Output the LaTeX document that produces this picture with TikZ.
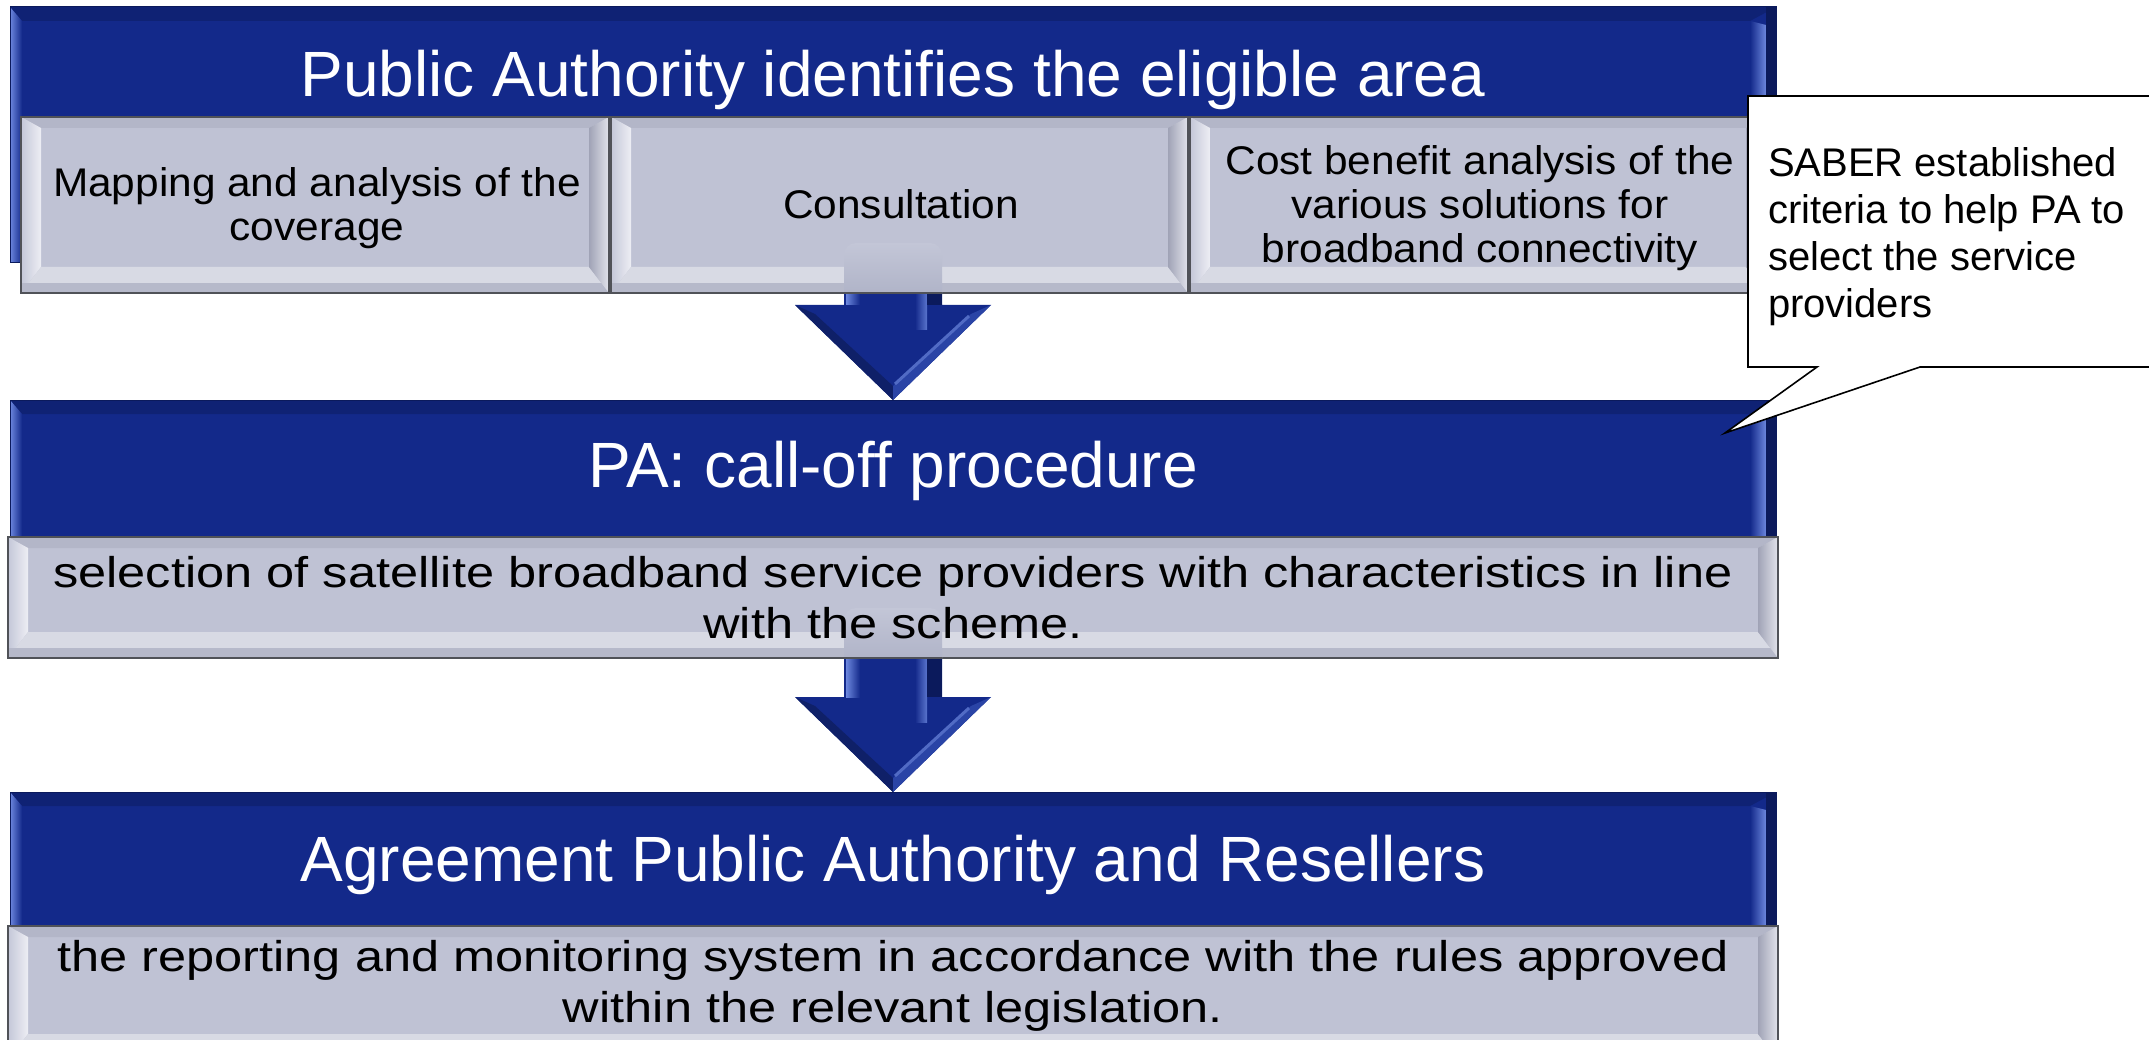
\documentclass[tikz,border=0pt]{standalone}
\usepackage{fontspec}
\setmainfont{Liberation Sans}
\newfontfamily\fontA[FakeStretch=1.06]{Liberation Sans}
\newfontfamily\fontB[FakeStretch=1.175]{Liberation Sans}
\usetikzlibrary{calc}
\definecolor{navy}{HTML}{13298A}
\definecolor{navytop}{HTML}{0F2274}
\definecolor{navyhi}{HTML}{6C87DE}
\definecolor{navyedge}{HTML}{0B1A5C}
\definecolor{navydeep}{HTML}{0F2068}
\definecolor{navyright}{HTML}{2A44A6}
\definecolor{grayfill}{HTML}{BFC2D4}
\definecolor{graytop}{HTML}{B3B6C8}
\definecolor{grayleftA}{HTML}{C4C7D8}
\definecolor{grayleftB}{HTML}{EDEEF4}
\definecolor{graybotA}{HTML}{D8DAE4}
\definecolor{graybotB}{HTML}{B6B9CA}
\definecolor{grayrightA}{HTML}{A0A3B6}
\definecolor{grayrightB}{HTML}{E2E3EB}
\definecolor{grayline}{HTML}{505258}
\definecolor{ovtop}{HTML}{C3C6D7}
\definecolor{ovbot}{HTML}{ABAFC4}

\tikzset{
  bluebox/.style={fill=navy, draw=navyedge, line width=1pt, inner sep=0pt, outer sep=0pt,
    path picture={
      \fill[navytop] let \p1=(path picture bounding box.north west), \p2=(path picture bounding box.south east) in
        (\x1,\y1) -- (\x2,\y1) -- (\x2-26pt,\y1-14pt) -- (\x1+12pt,\y1-14pt) -- cycle;
      \shade[left color=navyhi, right color=navy] let \p1=(path picture bounding box.north west), \p2=(path picture bounding box.south east) in
        (\x1,\y1) -- (\x1+12pt,\y1-14pt) -- (\x1+12pt,\y2) -- (\x1,\y2) -- cycle;
      \shade[left color=navy, right color=navyhi] let \p1=(path picture bounding box.north west), \p2=(path picture bounding box.south east) in
        (\x2-26pt,\y1-14pt) -- (\x2-10pt,\y1-18pt) -- (\x2-10pt,\y2) -- (\x2-26pt,\y2) -- cycle;
      \fill[navyedge] let \p1=(path picture bounding box.north west), \p2=(path picture bounding box.south east) in
        (\x2-10pt,\y1) rectangle (\x2,\y2);
    }},
  graybox/.style={fill=grayfill, draw=grayline, line width=1.2pt, inner sep=0pt, outer sep=0pt,
    path picture={
      \fill[graytop] let \p1=(path picture bounding box.north west), \p2=(path picture bounding box.south east) in
        (\x1,\y1) -- (\x2,\y1) -- (\x2-20pt,\y1-11pt) -- (\x1+20pt,\y1-11pt) -- cycle;
      \shade[left color=grayleftA, right color=grayleftB] let \p1=(path picture bounding box.north west), \p2=(path picture bounding box.south east) in
        (\x1,\y1) -- (\x1+20pt,\y1-11pt) -- (\x1+20pt,\y2+26pt) -- (\x1,\y2) -- cycle;
      \fill[graybotA] let \p1=(path picture bounding box.north west), \p2=(path picture bounding box.south east) in
        (\x1,\y2) -- (\x1+20pt,\y2+26pt) -- (\x2-20pt,\y2+26pt) -- (\x2,\y2) -- cycle;
      \fill[graybotB] let \p1=(path picture bounding box.north west), \p2=(path picture bounding box.south east) in
        (\x1,\y2) rectangle (\x2,\y2+10pt);
      \shade[left color=grayrightA, right color=grayrightB] let \p1=(path picture bounding box.north west), \p2=(path picture bounding box.south east) in
        (\x2,\y1) -- (\x2-20pt,\y1-11pt) -- (\x2-20pt,\y2+26pt) -- (\x2,\y2) -- cycle;
    }},
  titletxt/.style={text=white, font=\fontsize{64pt}{70pt}\selectfont, inner sep=0pt, outer sep=0pt, anchor=base},
  smalltxt/.style={text=black, font=\fontA\fontsize{40pt}{44pt}\selectfont, align=center, inner sep=0pt, outer sep=0pt, anchor=base},
  widetxt/.style={text=black, font=\fontB\fontsize{43pt}{51pt}\selectfont, align=center, inner sep=0pt, outer sep=0pt, anchor=base},
  notetxt/.style={text=black, font=\fontsize{40pt}{47.3pt}\selectfont, align=left, inner sep=0pt, outer sep=0pt, anchor=base west},
  callout/.style={draw=black, line width=1.6pt, fill=white, line join=miter},
}

% #1 tip coordinate, #2 distance from tip up to the lower edge of the grey box above
\newcommand\blockarrow[2]{%
  \shade[top color=ovtop, bottom color=ovbot, rounded corners=12pt]
    ($(#1)+(-49,-#2-50)$) rectangle ($(#1)+(49,-#2+14)$);
  \fill[navy] (#1) -- ($(#1)+(-98,-95)$) -- ($(#1)+(-49,-95)$) -- ($(#1)+(-49,-#2)$)
    -- ($(#1)+(49,-#2)$) -- ($(#1)+(49,-95)$) -- ($(#1)+(98,-95)$) -- cycle;
  \fill[navydeep] (#1) -- ($(#1)+(-98,-95)$) -- ($(#1)+(-78,-86)$) -- ($(#1)+(0,-14)$) -- cycle;
  \fill[navyright] (#1) -- ($(#1)+(98,-95)$) -- ($(#1)+(78,-86)$) -- ($(#1)+(0,-14)$) -- cycle;
  \draw[navyhi!70!navy, line width=3pt] ($(#1)+(76,-84)$) -- ($(#1)+(2,-16)$);
  \shade[left color=navyhi, right color=navy] ($(#1)+(-47,-#2)$) rectangle ($(#1)+(-33,-95)$);
  \shade[left color=navy, right color=navyhi!80!navy] ($(#1)+(22,-#2)$) rectangle ($(#1)+(34,-70)$);
  \fill[navyedge] ($(#1)+(34,-#2)$) rectangle ($(#1)+(49,-95)$);
  \draw[grayline, line width=1.2pt] ($(#1)+(-49,-#2)$) -- ($(#1)+(49,-#2)$);
}

\begin{document}
\begin{tikzpicture}[x=1pt, y=-1pt]
\useasboundingbox (0,0) rectangle (2149,1040);
\fill[white] (0,0) rectangle (2149,1040);
\begin{scope}
\clip (0,0) rectangle (2149,1040);

% ---- stage 1
\node[bluebox, minimum width=1766pt, minimum height=256pt] (b1) at (893,135) {};
\node[graybox, minimum width=588pt, minimum height=176pt] (g1a) at (315,205) {};
\node[graybox, minimum width=577pt, minimum height=176pt] (g1b) at (899.5,205) {};
\node[graybox, minimum width=576pt, minimum height=176pt] (g1c) at (1478,205) {};

% ---- stage 2
\node[bluebox, minimum width=1766pt, minimum height=145pt] (b2) at (893,472.5) {};
\node[graybox, minimum width=1770pt, minimum height=121pt] (g2) at (893,597.5) {};

% ---- stage 3
\node[bluebox, minimum width=1766pt, minimum height=143pt] (b3) at (893,863.5) {};
\node[graybox, minimum width=1770pt, minimum height=134pt] (g3) at (893,993) {};

% ---- arrows
\coordinate (tipA) at (b2.north);
\coordinate (tipB) at (b3.north);
\blockarrow{tipA}{107}
\blockarrow{tipB}{134}

% ---- texts (base anchor of a multi-line node = baseline of its last line)
\node[titletxt] (t1) at (893,97) {Public Authority identifies the eligible area};
\node[smalltxt] (m1) at (317,241) {Mapping and analysis of the\\coverage};
\node[smalltxt] (c1) at (901,219) {Consultation};
\node[smalltxt] (cb) at (1480,263) {Cost benefit analysis of the\\various solutions for\\broadband connectivity};

\node[titletxt] (t2) at (893,487) {PA: call-off procedure};
\node[widetxt] (s2) at (893,638) {selection of satellite broadband service providers with characteristics in line\\with the scheme.};

\node[titletxt] (t3) at (893,881) {Agreement Public Authority and Resellers};
\node[widetxt] (s3) at (893,1022) {the reporting and monitoring system in accordance with the rules approved\\within the relevant legislation.};

% ---- callout
\coordinate (ptr) at (1725,433);
\draw[callout] (1748,96) -- (2200,96) -- (2200,367) -- (1920,367) -- (ptr) -- (1817,367) -- (1748,367) -- cycle;
\node[notetxt] (note) at (1768,318) {SABER established\\criteria to help PA to\\select the service\\providers};
\end{scope}
\end{tikzpicture}
\end{document}
